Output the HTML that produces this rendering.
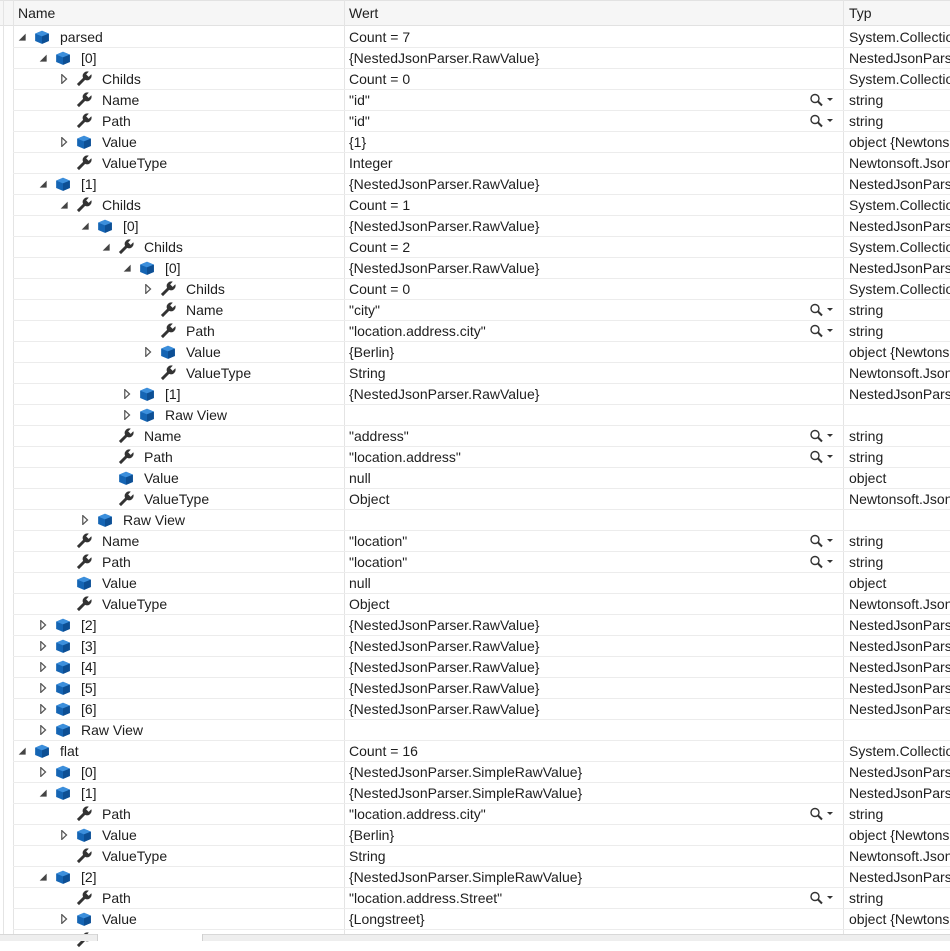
<!DOCTYPE html>
<html><head><meta charset="utf-8"><style>
*{margin:0;padding:0;box-sizing:border-box}
body{width:950px;height:941px;overflow:hidden;background:#fff;font-family:"Liberation Sans",sans-serif;font-size:14px;color:#1e1e1e;position:relative}
.hdr{position:absolute;left:0;top:0;width:950px;height:26px;background:#f6f6f6;border-bottom:1px solid #e2e2e2;border-top:1px solid #e2e2e2}
.hdr span{position:absolute;top:4px}
.vl{position:absolute;top:0;width:1px;background:#e4e4e4}
.r{position:absolute;left:13px;width:937px;height:21px;border-bottom:1px solid #ececec;line-height:20px;white-space:nowrap}
.r>*{position:absolute}
.v{left:336px}
.t{left:836px}
.ic{width:16px;height:16px;top:2px;margin-left:-1px}
.ex{width:10px;height:10px;top:5px}
.mg{left:796px;top:3px;width:26px;height:14px}
</style></head><body>
<svg width="0" height="0" style="position:absolute">
<defs>
<symbol id="cube" viewBox="0 0 14 14"><path d="M1 4 L7 1.5 L13 4 L13 10.5 L7 13 L1 10.5Z" fill="#1565b4"/><path d="M1 4 L7 1.5 L13 4 L7 6.5Z" fill="#3c8fdc"/><path d="M7 6.5 L13 4 L13 10.5 L7 13Z" fill="#0d4f94"/></symbol>
<symbol id="wr" viewBox="0 0 14 14"><path d="M0.8 11.4 L6.2 6 A4 4 0 0 1 11.2 0.6 L8.9 2.9 L11.1 5.1 L13.4 2.8 A4 4 0 0 1 8 7.8 L2.6 13.2 Z" fill="#333"/></symbol>
<symbol id="op" viewBox="0 0 9 9"><path d="M7.8 1.5 L7.8 7.8 L1.5 7.8Z" fill="#444"/></symbol>
<symbol id="cl" viewBox="0 0 9 9"><path d="M2.5 0.5 L6.8 4.5 L2.5 8.5Z" fill="none" stroke="#555" stroke-width="1.1"/></symbol>
<symbol id="mag" viewBox="0 0 26 14"><circle cx="6" cy="5.5" r="4" fill="none" stroke="#333" stroke-width="1.4"/><path d="M9 8.5 L13 12.5" stroke="#333" stroke-width="2"/><path d="M18 5 L24 5 L21 8Z" fill="#333"/></symbol>
</defs></svg>
<div class="hdr"><span style="left:18px">Name</span><span style="left:349px">Wert</span><span style="left:849px">Typ</span></div>
<div class="vl" style="left:3px;height:934px"></div>
<div class="vl" style="left:13px;height:934px"></div>
<div class="vl" style="left:344px;height:934px"></div>
<div class="vl" style="left:843px;height:934px"></div>

<div id="rows">
<div class="r" style="top:27px"><svg class="ex" style="left:4px"><use href="#op"/></svg><svg class="ic" style="left:22px"><use href="#cube"/></svg><span style="left:47px">parsed</span><span class="v">Count = 7</span><span class="t">System.Collections</span></div>
<div class="r" style="top:48px"><svg class="ex" style="left:25px"><use href="#op"/></svg><svg class="ic" style="left:43px"><use href="#cube"/></svg><span style="left:68px">[0]</span><span class="v">{NestedJsonParser.RawValue}</span><span class="t">NestedJsonParser</span></div>
<div class="r" style="top:69px"><svg class="ex" style="left:46px"><use href="#cl"/></svg><svg class="ic" style="left:64px"><use href="#wr"/></svg><span style="left:89px">Childs</span><span class="v">Count = 0</span><span class="t">System.Collections</span></div>
<div class="r" style="top:90px"><svg class="ic" style="left:64px"><use href="#wr"/></svg><span style="left:89px">Name</span><span class="v">"id"</span><svg class="mg"><use href="#mag"/></svg><span class="t">string</span></div>
<div class="r" style="top:111px"><svg class="ic" style="left:64px"><use href="#wr"/></svg><span style="left:89px">Path</span><span class="v">"id"</span><svg class="mg"><use href="#mag"/></svg><span class="t">string</span></div>
<div class="r" style="top:132px"><svg class="ex" style="left:46px"><use href="#cl"/></svg><svg class="ic" style="left:64px"><use href="#cube"/></svg><span style="left:89px">Value</span><span class="v">{1}</span><span class="t">object {Newtonsoft</span></div>
<div class="r" style="top:153px"><svg class="ic" style="left:64px"><use href="#wr"/></svg><span style="left:89px">ValueType</span><span class="v">Integer</span><span class="t">Newtonsoft.Json</span></div>
<div class="r" style="top:174px"><svg class="ex" style="left:25px"><use href="#op"/></svg><svg class="ic" style="left:43px"><use href="#cube"/></svg><span style="left:68px">[1]</span><span class="v">{NestedJsonParser.RawValue}</span><span class="t">NestedJsonParser</span></div>
<div class="r" style="top:195px"><svg class="ex" style="left:46px"><use href="#op"/></svg><svg class="ic" style="left:64px"><use href="#wr"/></svg><span style="left:89px">Childs</span><span class="v">Count = 1</span><span class="t">System.Collections</span></div>
<div class="r" style="top:216px"><svg class="ex" style="left:67px"><use href="#op"/></svg><svg class="ic" style="left:85px"><use href="#cube"/></svg><span style="left:110px">[0]</span><span class="v">{NestedJsonParser.RawValue}</span><span class="t">NestedJsonParser</span></div>
<div class="r" style="top:237px"><svg class="ex" style="left:88px"><use href="#op"/></svg><svg class="ic" style="left:106px"><use href="#wr"/></svg><span style="left:131px">Childs</span><span class="v">Count = 2</span><span class="t">System.Collections</span></div>
<div class="r" style="top:258px"><svg class="ex" style="left:109px"><use href="#op"/></svg><svg class="ic" style="left:127px"><use href="#cube"/></svg><span style="left:152px">[0]</span><span class="v">{NestedJsonParser.RawValue}</span><span class="t">NestedJsonParser</span></div>
<div class="r" style="top:279px"><svg class="ex" style="left:130px"><use href="#cl"/></svg><svg class="ic" style="left:148px"><use href="#wr"/></svg><span style="left:173px">Childs</span><span class="v">Count = 0</span><span class="t">System.Collections</span></div>
<div class="r" style="top:300px"><svg class="ic" style="left:148px"><use href="#wr"/></svg><span style="left:173px">Name</span><span class="v">"city"</span><svg class="mg"><use href="#mag"/></svg><span class="t">string</span></div>
<div class="r" style="top:321px"><svg class="ic" style="left:148px"><use href="#wr"/></svg><span style="left:173px">Path</span><span class="v">"location.address.city"</span><svg class="mg"><use href="#mag"/></svg><span class="t">string</span></div>
<div class="r" style="top:342px"><svg class="ex" style="left:130px"><use href="#cl"/></svg><svg class="ic" style="left:148px"><use href="#cube"/></svg><span style="left:173px">Value</span><span class="v">{Berlin}</span><span class="t">object {Newtonsoft</span></div>
<div class="r" style="top:363px"><svg class="ic" style="left:148px"><use href="#wr"/></svg><span style="left:173px">ValueType</span><span class="v">String</span><span class="t">Newtonsoft.Json</span></div>
<div class="r" style="top:384px"><svg class="ex" style="left:109px"><use href="#cl"/></svg><svg class="ic" style="left:127px"><use href="#cube"/></svg><span style="left:152px">[1]</span><span class="v">{NestedJsonParser.RawValue}</span><span class="t">NestedJsonParser</span></div>
<div class="r" style="top:405px"><svg class="ex" style="left:109px"><use href="#cl"/></svg><svg class="ic" style="left:127px"><use href="#cube"/></svg><span style="left:152px">Raw View</span></div>
<div class="r" style="top:426px"><svg class="ic" style="left:106px"><use href="#wr"/></svg><span style="left:131px">Name</span><span class="v">"address"</span><svg class="mg"><use href="#mag"/></svg><span class="t">string</span></div>
<div class="r" style="top:447px"><svg class="ic" style="left:106px"><use href="#wr"/></svg><span style="left:131px">Path</span><span class="v">"location.address"</span><svg class="mg"><use href="#mag"/></svg><span class="t">string</span></div>
<div class="r" style="top:468px"><svg class="ic" style="left:106px"><use href="#cube"/></svg><span style="left:131px">Value</span><span class="v">null</span><span class="t">object</span></div>
<div class="r" style="top:489px"><svg class="ic" style="left:106px"><use href="#wr"/></svg><span style="left:131px">ValueType</span><span class="v">Object</span><span class="t">Newtonsoft.Json</span></div>
<div class="r" style="top:510px"><svg class="ex" style="left:67px"><use href="#cl"/></svg><svg class="ic" style="left:85px"><use href="#cube"/></svg><span style="left:110px">Raw View</span></div>
<div class="r" style="top:531px"><svg class="ic" style="left:64px"><use href="#wr"/></svg><span style="left:89px">Name</span><span class="v">"location"</span><svg class="mg"><use href="#mag"/></svg><span class="t">string</span></div>
<div class="r" style="top:552px"><svg class="ic" style="left:64px"><use href="#wr"/></svg><span style="left:89px">Path</span><span class="v">"location"</span><svg class="mg"><use href="#mag"/></svg><span class="t">string</span></div>
<div class="r" style="top:573px"><svg class="ic" style="left:64px"><use href="#cube"/></svg><span style="left:89px">Value</span><span class="v">null</span><span class="t">object</span></div>
<div class="r" style="top:594px"><svg class="ic" style="left:64px"><use href="#wr"/></svg><span style="left:89px">ValueType</span><span class="v">Object</span><span class="t">Newtonsoft.Json</span></div>
<div class="r" style="top:615px"><svg class="ex" style="left:25px"><use href="#cl"/></svg><svg class="ic" style="left:43px"><use href="#cube"/></svg><span style="left:68px">[2]</span><span class="v">{NestedJsonParser.RawValue}</span><span class="t">NestedJsonParser</span></div>
<div class="r" style="top:636px"><svg class="ex" style="left:25px"><use href="#cl"/></svg><svg class="ic" style="left:43px"><use href="#cube"/></svg><span style="left:68px">[3]</span><span class="v">{NestedJsonParser.RawValue}</span><span class="t">NestedJsonParser</span></div>
<div class="r" style="top:657px"><svg class="ex" style="left:25px"><use href="#cl"/></svg><svg class="ic" style="left:43px"><use href="#cube"/></svg><span style="left:68px">[4]</span><span class="v">{NestedJsonParser.RawValue}</span><span class="t">NestedJsonParser</span></div>
<div class="r" style="top:678px"><svg class="ex" style="left:25px"><use href="#cl"/></svg><svg class="ic" style="left:43px"><use href="#cube"/></svg><span style="left:68px">[5]</span><span class="v">{NestedJsonParser.RawValue}</span><span class="t">NestedJsonParser</span></div>
<div class="r" style="top:699px"><svg class="ex" style="left:25px"><use href="#cl"/></svg><svg class="ic" style="left:43px"><use href="#cube"/></svg><span style="left:68px">[6]</span><span class="v">{NestedJsonParser.RawValue}</span><span class="t">NestedJsonParser</span></div>
<div class="r" style="top:720px"><svg class="ex" style="left:25px"><use href="#cl"/></svg><svg class="ic" style="left:43px"><use href="#cube"/></svg><span style="left:68px">Raw View</span></div>
<div class="r" style="top:741px"><svg class="ex" style="left:4px"><use href="#op"/></svg><svg class="ic" style="left:22px"><use href="#cube"/></svg><span style="left:47px">flat</span><span class="v">Count = 16</span><span class="t">System.Collections</span></div>
<div class="r" style="top:762px"><svg class="ex" style="left:25px"><use href="#cl"/></svg><svg class="ic" style="left:43px"><use href="#cube"/></svg><span style="left:68px">[0]</span><span class="v">{NestedJsonParser.SimpleRawValue}</span><span class="t">NestedJsonParser</span></div>
<div class="r" style="top:783px"><svg class="ex" style="left:25px"><use href="#op"/></svg><svg class="ic" style="left:43px"><use href="#cube"/></svg><span style="left:68px">[1]</span><span class="v">{NestedJsonParser.SimpleRawValue}</span><span class="t">NestedJsonParser</span></div>
<div class="r" style="top:804px"><svg class="ic" style="left:64px"><use href="#wr"/></svg><span style="left:89px">Path</span><span class="v">"location.address.city"</span><svg class="mg"><use href="#mag"/></svg><span class="t">string</span></div>
<div class="r" style="top:825px"><svg class="ex" style="left:46px"><use href="#cl"/></svg><svg class="ic" style="left:64px"><use href="#cube"/></svg><span style="left:89px">Value</span><span class="v">{Berlin}</span><span class="t">object {Newtonsoft</span></div>
<div class="r" style="top:846px"><svg class="ic" style="left:64px"><use href="#wr"/></svg><span style="left:89px">ValueType</span><span class="v">String</span><span class="t">Newtonsoft.Json</span></div>
<div class="r" style="top:867px"><svg class="ex" style="left:25px"><use href="#op"/></svg><svg class="ic" style="left:43px"><use href="#cube"/></svg><span style="left:68px">[2]</span><span class="v">{NestedJsonParser.SimpleRawValue}</span><span class="t">NestedJsonParser</span></div>
<div class="r" style="top:888px"><svg class="ic" style="left:64px"><use href="#wr"/></svg><span style="left:89px">Path</span><span class="v">"location.address.Street"</span><svg class="mg"><use href="#mag"/></svg><span class="t">string</span></div>
<div class="r" style="top:909px"><svg class="ex" style="left:46px"><use href="#cl"/></svg><svg class="ic" style="left:64px"><use href="#cube"/></svg><span style="left:89px">Value</span><span class="v">{Longstreet}</span><span class="t">object {Newtonsoft</span></div>
<div class="r" style="top:930px;border:none"><svg class="ic" style="left:64px"><use href="#wr"/></svg></div>
</div>
<div style="position:absolute;left:0;top:934px;width:97px;height:7px;background:#eeeeee;border-top:1px solid #d8d8d8"></div>
<div style="position:absolute;left:97px;top:934px;width:106px;height:7px;background:#fff;border-left:1px solid #d0d0d0;border-right:1px solid #d0d0d0"></div>
<div style="position:absolute;left:203px;top:934px;width:747px;height:7px;background:#eeeeee;border-top:1px solid #d8d8d8"></div>
</body></html>
